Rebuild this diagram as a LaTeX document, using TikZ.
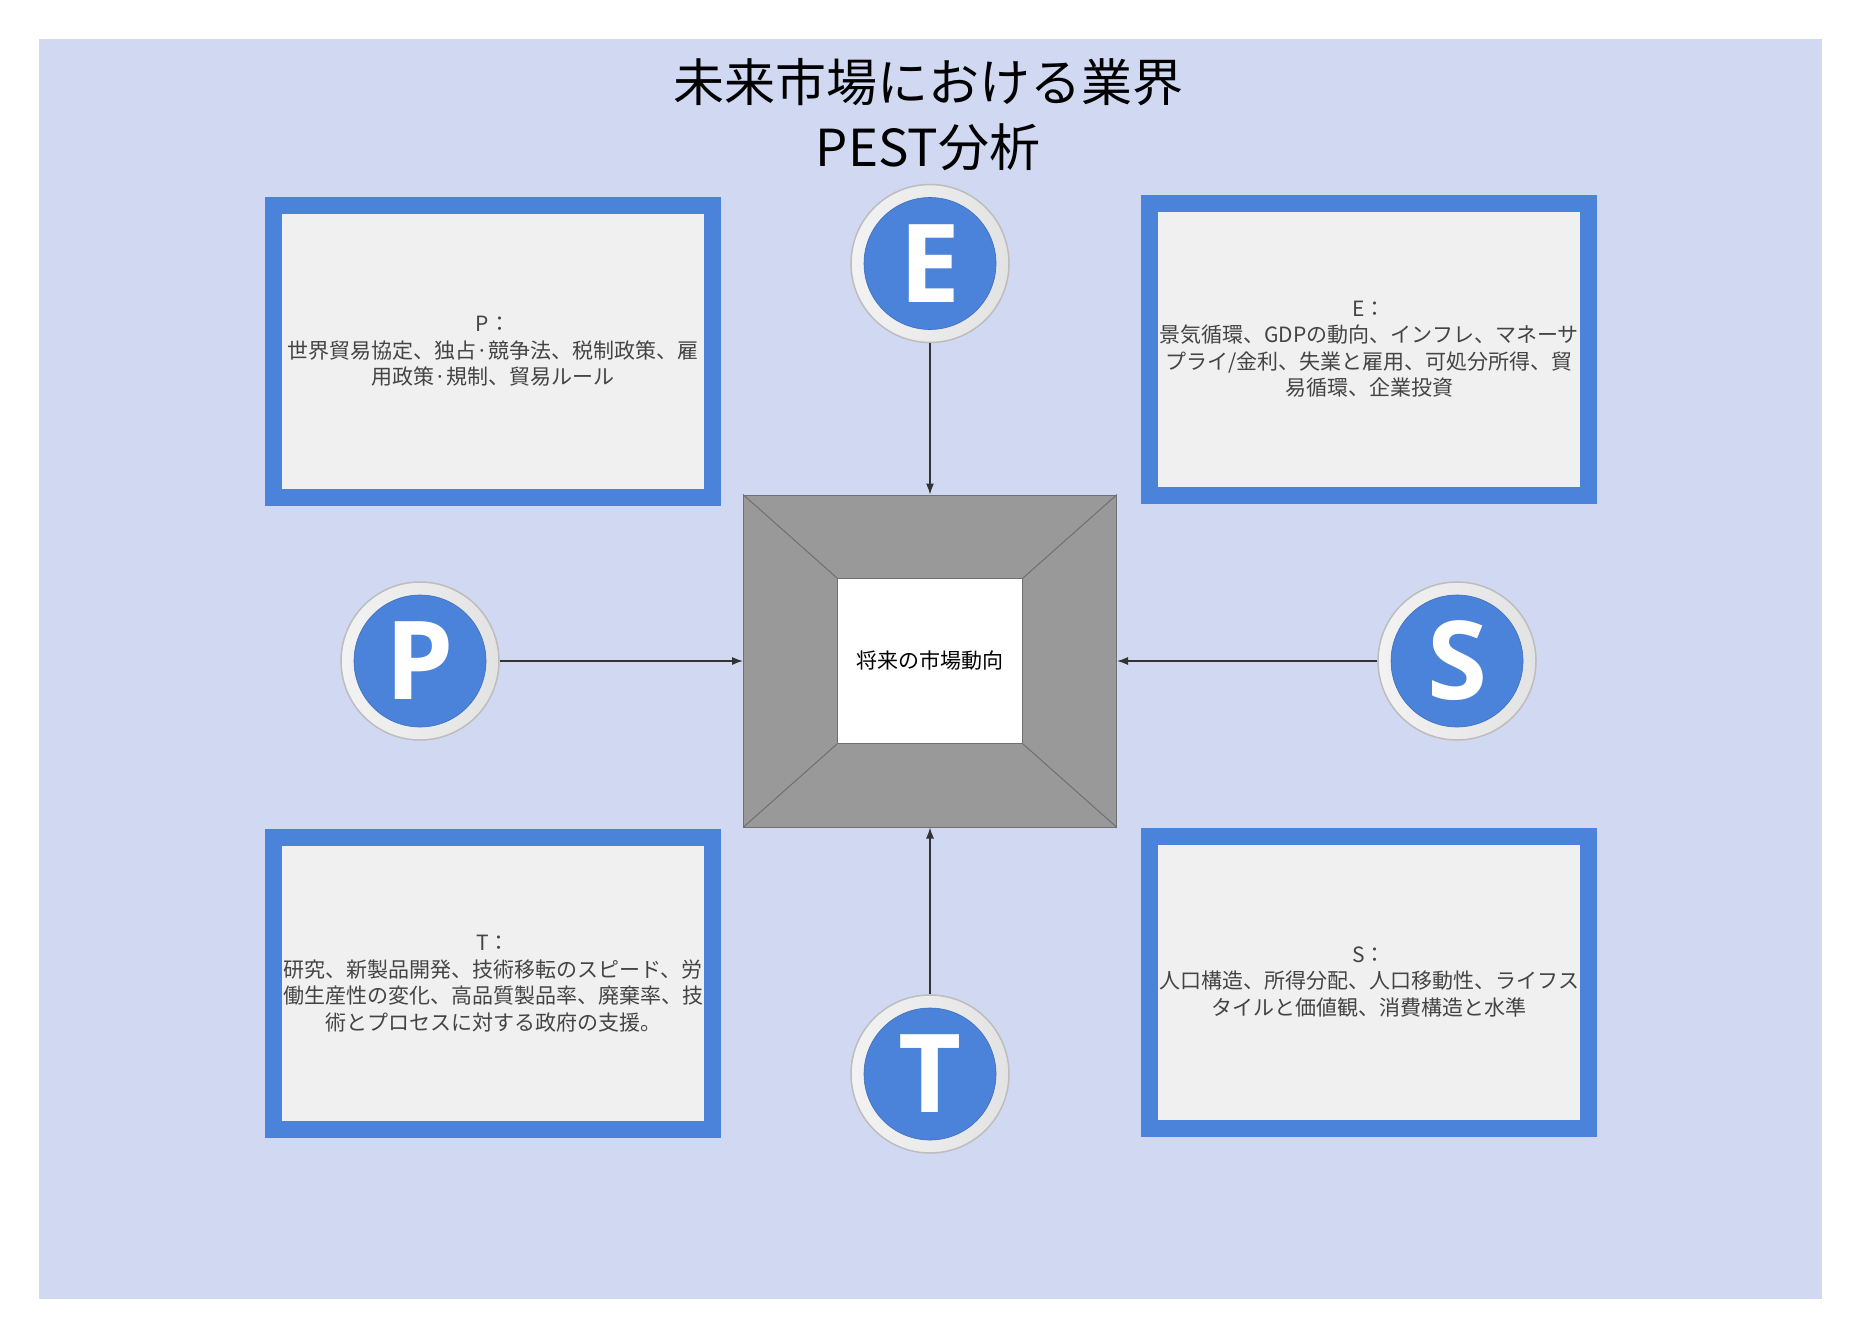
\documentclass[tikz,border=0pt]{standalone}
\usepackage{fontspec}
\setmainfont{Noto Sans CJK JP}
\newfontfamily\letterfont{Open Sans}
\usetikzlibrary{arrows.meta,positioning}
\definecolor{canvas}{HTML}{D0D9F1}
\definecolor{pestblue}{HTML}{4A83D9}
\definecolor{paper}{HTML}{F0F0F0}
\definecolor{bodytext}{HTML}{444444}
\definecolor{framegray}{HTML}{999999}
\definecolor{frameline}{HTML}{707070}
\definecolor{ringgray}{HTML}{BDBDBD}
\tikzset{
  every picture/.style={x=1pt, y=-1pt, line join=round, >=Latex},
  pestbox/.style={draw=pestblue, line width=17pt, line join=miter, fill=paper, minimum width=439pt, minimum height=292pt, inner sep=0pt, align=center, text=bodytext, font=\fontsize{21}{26.5}\selectfont},
  ring/.style={circle, draw=ringgray, line width=1.5pt, left color=white!95!black, right color=white!89!black, minimum size=158pt, inner sep=0pt},
  badge/.style={circle, fill=pestblue, draw=pestblue!85!black, line width=0.6pt, minimum size=132pt, inner sep=0pt, text=white, font=\letterfont\bfseries\fontsize{109}{109}\selectfont},
  frameface/.style={draw=frameline, line width=1pt, inner sep=0pt},
  feed/.style={draw=black!80, line width=1.2pt, -{Latex[length=11pt,width=8pt]}},
}

\begin{document}
\begin{tikzpicture}
\useasboundingbox (0,0) rectangle (1857,1335);
\fill[canvas] (39,39) rectangle (1822,1299);
\node[font=\fontsize{51}{65}\selectfont, align=center] (title) at (928,115) {未来市場における業界\\PEST分析};
\node[pestbox] (Pbox) at (493,351.5) {P：\\世界貿易協定、独占·競争法、税制政策、雇\\用政策·規制、貿易ルール};
\node[pestbox] (Ebox) at (1369,349) {E：\\景気循環、GDPの動向、インフレ、マネーサ\\プライ/金利、失業と雇用、可処分所得、貿\\易循環、企業投資};
\node[pestbox] (Tbox) at (493,983.5) {T：\\研究、新製品開発、技術移転のスピード、労\\働生産性の変化、高品質製品率、廃棄率、技\\術とプロセスに対する政府の支援。};
\node[pestbox] (Sbox) at (1369,982) {S：\\人口構造、所得分配、人口移動性、ライフス\\タイルと価値観、消費構造と水準};
\node[frameface, fill=framegray, minimum width=373pt, minimum height=332pt] (frame) at (930,661) {};
\node[frameface, fill=white, minimum width=185pt, minimum height=165pt, font=\fontsize{21}{25}\selectfont] (core) at (930,661) {将来の市場動向};
\draw[frameline, line width=1pt] (frame.north west) -- (core.north west) (frame.north east) -- (core.north east) (frame.south west) -- (core.south west) (frame.south east) -- (core.south east);
\node[ring] (Ering) at (930,263.5) {};
\node[badge] (E) at (Ering) {E};
\node[ring] (Pring) at (420,661) {};
\node[badge] (P) at (Pring) {P};
\node[ring] (Sring) at (1457,661) {};
\node[badge] (S) at (Sring) {S};
\node[ring] (Tring) at (930,1074) {};
\node[badge] (T) at (Tring) {T};
\draw[feed] (Ering) -- (frame);
\draw[feed] (Pring) -- (frame);
\draw[feed] (Sring) -- (frame);
\draw[feed] (Tring) -- (frame);
\end{tikzpicture}
\end{document}
